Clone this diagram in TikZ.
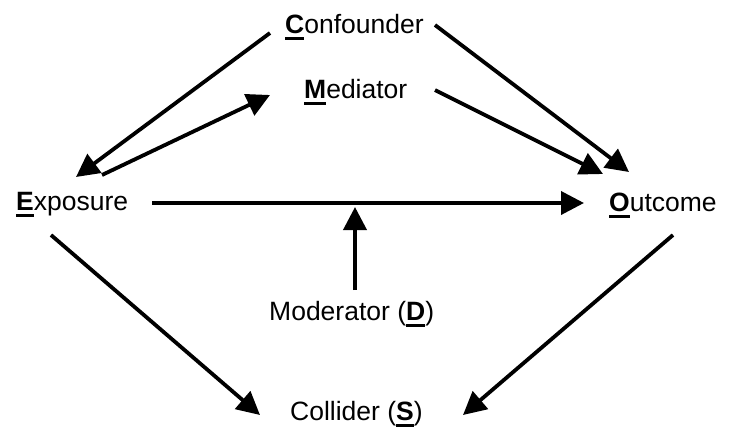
\documentclass[tikz,border=0pt]{standalone}
\usepackage{fontspec}
\setmainfont{Liberation Sans}
\usetikzlibrary{arrows.meta}
\newcommand\ufl[1]{\setbox0\hbox{\textbf{#1}}\rlap{\rule[-7pt]{\wd0}{3pt}}\box0}
\begin{document}
\begin{tikzpicture}[x=1pt,y=-1pt,
  lbl/.style={anchor=base west,inner sep=0pt,font=\fontsize{26.5}{30}\selectfont},
  arr/.style={line width=3.8pt,-{Triangle[length=23pt,width=23pt]}}]
\useasboundingbox (0,0) rectangle (729,432);
\node[lbl] (C) at (285,33) {\ufl{C}onfounder};
\node[lbl] (M) at (304,98) {\ufl{M}ediator};
\node[lbl] (E) at (16,210) {\ufl{E}xposure};
\node[lbl] (O) at (609,211) {\ufl{O}utcome};
\node[lbl] (D) at (269,320) {Moderator (\ufl{D})};
\node[lbl] (S) at (290,420) {Collider (\ufl{S})};
% connector end points
\coordinate (c1) at (270,33);  \coordinate (e1) at (76,177);
\coordinate (e2) at (102,175); \coordinate (m1) at (270,95);
\coordinate (c2) at (435,25);  \coordinate (o1) at (629,172);
\coordinate (m2) at (435,90);  \coordinate (o2) at (603,174);
\coordinate (e3) at (152,203); \coordinate (o3) at (584,203);
\coordinate (d1) at (355,290); \coordinate (x1) at (355,207);
\coordinate (e4) at (51,235);  \coordinate (s1) at (260,415);
\coordinate (o4) at (673,235); \coordinate (s2) at (463,415);
\draw[arr] (c1) -- (e1);
\draw[arr] (e2) -- (m1);
\draw[arr] (c2) -- (o1);
\draw[arr] (m2) -- (o2);
\draw[arr] (e3) -- (o3);
\draw[arr] (d1) -- (x1);
\draw[arr] (e4) -- (s1);
\draw[arr] (o4) -- (s2);
\end{tikzpicture}
\end{document}
